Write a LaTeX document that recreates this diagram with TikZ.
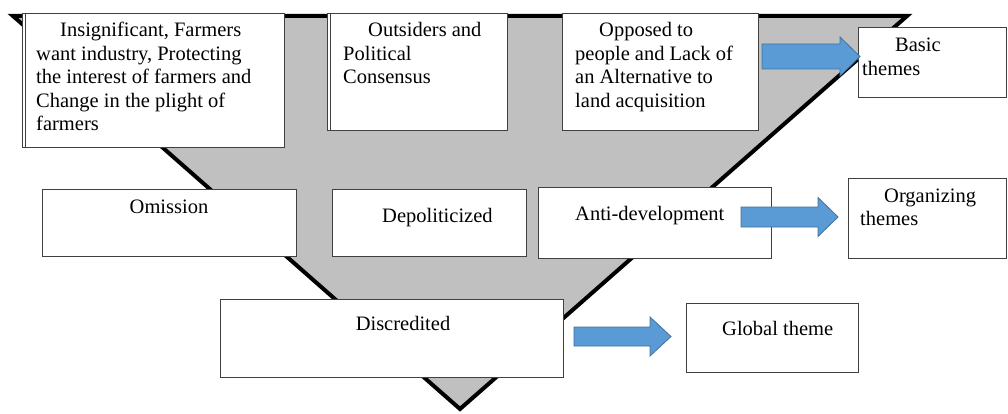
\documentclass[tikz,border=0pt]{standalone}
\usepackage{fontspec}
\setmainfont{Liberation Serif}
\newfontfamily\tnr{Liberation Serif}
\usetikzlibrary{calc}
\definecolor{trigray}{RGB}{192,192,192}
\definecolor{boxgray}{RGB}{64,64,64}
\definecolor{arrowblue}{RGB}{91,155,213}
\definecolor{arrowedge}{RGB}{65,113,156}
\begin{document}
\begin{tikzpicture}[x=1pt,y=-1pt,
  box/.style={draw=boxgray, line width=1.2pt, fill=white, inner sep=0pt, anchor=north west},
  innerline/.style={draw=boxgray, line width=1pt},
  txt/.style={inner sep=0pt, anchor=base west, align=left, font=\tnr\fontsize{20.5}{23.5}\selectfont},
  ctxt/.style={inner sep=0pt, anchor=base, font=\tnr\fontsize{20.5}{23.5}\selectfont},
  barrow/.style={fill=arrowblue, draw=arrowedge, line width=0.8pt, line join=miter}]
\useasboundingbox (0,0) rectangle (1008,414);
% inverted triangle
\draw[line width=4pt, fill=trigray, line join=miter] (13,16) -- (907,16) -- (460,409) -- cycle;
% boxes
\node[box, minimum width=262pt, minimum height=134pt] (b1) at (22,13) {};
\draw[innerline] ($(b1.north west)+(3.5,0)$) -- ($(b1.south west)+(3.5,0)$);
\node[box, minimum width=180pt, minimum height=117pt] (b2) at (327,13) {};
\draw[innerline] ($(b2.north west)+(3.5,0)$) -- ($(b2.south west)+(3.5,0)$);
\node[box, minimum width=196pt, minimum height=117pt] (b3) at (562,13) {};
\node[box, minimum width=148pt, minimum height=70pt] (basic) at (858,27) {};
\node[box, minimum width=254pt, minimum height=67pt] (om) at (42,189) {};
\node[box, minimum width=194pt, minimum height=67pt] (dep) at (332,189) {};
\node[box, minimum width=233pt, minimum height=71pt] (anti) at (538,187) {};
\node[box, minimum width=158pt, minimum height=80pt] (org) at (848,178) {};
\node[box, minimum width=343pt, minimum height=78pt] (disc) at (220,299) {};
\node[box, minimum width=172pt, minimum height=69pt] (glob) at (686,303) {};
% block arrows
\coordinate (a1s) at (762,56.5);
\coordinate (a1t) at (860,56.5);
\draw[barrow] ($(a1s)+(0,-12.5)$) -- (840,44) -- (840,37) -- (a1t) -- (840,76) -- (840,69) -- ($(a1s)+(0,12.5)$) -- cycle;
\coordinate (a2s) at (741,217);
\coordinate (a2t) at (838,217);
\draw[barrow] ($(a2s)+(0,-10)$) -- (818,207) -- (818,197.5) -- (a2t) -- (818,236.5) -- (818,227) -- ($(a2s)+(0,10)$) -- cycle;
\coordinate (a3s) at (574,336.5);
\coordinate (a3t) at (671,336.5);
\draw[barrow] ($(a3s)+(0,-9.5)$) -- (650,327) -- (650,317) -- (a3t) -- (650,356) -- (650,346) -- ($(a3s)+(0,9.5)$) -- cycle;
% texts (multi-line nodes are placed by the baseline of their last line)
\node[txt] (t1) at (36,131) {\hspace*{24pt}Insignificant, Farmers\\want industry, Protecting\\the interest of farmers and\\Change in the plight of\\farmers};
\node[txt] (t2) at (343,84) {\hspace*{25pt}Outsiders and\\Political\\Consensus};
\node[txt] (t3) at (575,107.5) {\hspace*{24pt}Opposed to\\people and Lack of\\an Alternative to\\land acquisition};
\node[txt] (t4) at (862,75.5) {\hspace*{33pt}Basic\\themes};
\node[ctxt] (t5) at (169,213) {Omission};
\node[txt] (t6) at (382,222) {Depoliticized};
\node[txt] (t7) at (575,220) {Anti-development};
\node[txt] (t8) at (860,225.5) {\hspace*{24pt}Organizing\\themes};
\node[ctxt] (t9) at (403,330) {Discredited};
\node[txt] (t10) at (722,335) {Global theme};
\end{tikzpicture}
\end{document}
